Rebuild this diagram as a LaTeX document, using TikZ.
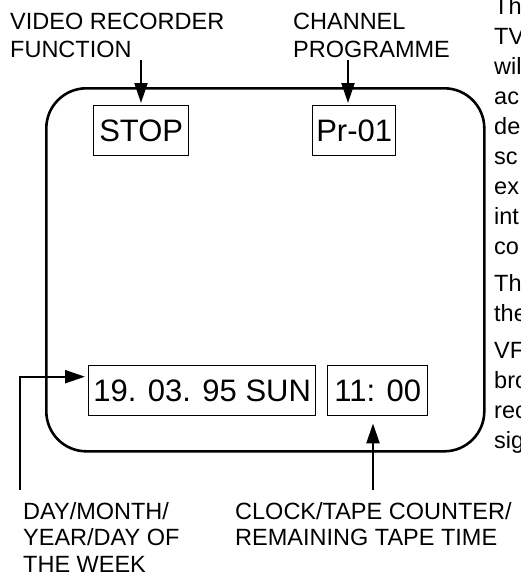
\documentclass[tikz,border=0pt]{standalone}
\usepackage{fontspec}
\setmainfont{Liberation Sans}
\usetikzlibrary{arrows.meta,positioning}
\tikzset{
  lbl/.style={align=left, anchor=north west, inner sep=0pt, font=\fontsize{23.5}{27}\selectfont},
  side/.style={lbl, font=\fontsize{23.5}{30}\selectfont},
  disp/.style={rectangle, draw, line width=1.4pt, inner sep=0pt, minimum height=50pt,
               font=\fontsize{31}{36}\selectfont},
  arr/.style={-{Triangle[length=20pt,width=13pt]}, line width=2.2pt},
}
\begin{document}
\begin{tikzpicture}[x=1pt,y=-1pt]
  \useasboundingbox (0,0) rectangle (521,574);
  % screen
  \node[draw, line width=2.6pt, rounded corners=40pt, minimum width=438pt, minimum height=363pt,
        inner sep=0pt, anchor=north west] (screen) at (45,87) {};
  % displays
  \node[disp, minimum width=95pt, anchor=north west] (stop) at (93,105) {STOP};
  \node[disp, minimum width=83pt, anchor=north west] (chan) at (312,105) {Pr-01};
  \node[disp, minimum width=227pt, anchor=north west] (date) at (88,365) {19. 03. 95 SUN};
  \node[disp, minimum width=100pt, anchor=north west] (clock) at (327,365) {11: 00};
  % labels
  \node[lbl, font=\fontsize{23.5}{28}\selectfont] (vcr) at (10,13) {VIDEO RECORDER\\FUNCTION};
  \node[lbl, font=\fontsize{23.5}{28}\selectfont] (prog) at (293,13) {CHANNEL\\PROGRAMME};
  \node[lbl, font=\fontsize{23.5}{26.5}\selectfont] (dmy) at (23,502) {DAY/MONTH/\\YEAR/DAY OF\\THE WEEK};
  \node[lbl, font=\fontsize{23.5}{26.5}\selectfont] (tape) at (235,502) {CLOCK/TAPE COUNTER/\\REMAINING TAPE TIME};
  % text at the right edge
  \node[side] (txta) at (494,-3) {Th\\TV\\wil\\ac\\de\\sc\\ex\\int\\co};
  \node[side, below=20pt of txta.south west, anchor=north west] (txtb) {Th\\the};
  \node[side, below=20pt of txtb.south west, anchor=north west] (txtc) {VF\\bro\\rec\\sig};
  % pointers
  \coordinate (vcrend) at (141,60);
  \coordinate (progend) at (348,60);
  \coordinate (dmyend) at (20,490);
  \coordinate (tapeend) at (373,490);
  \draw[arr] (vcrend) -- ([yshift=2pt]stop.north -| vcrend);
  \draw[arr] (progend) -- ([yshift=2pt]chan.north -| progend);
  \draw[arr] (dmyend) |- ([xshift=-3pt,yshift=14pt]date.west);
  \draw[arr] (tapeend) -- ([yshift=-7pt]clock.south -| tapeend);
\end{tikzpicture}
\end{document}
